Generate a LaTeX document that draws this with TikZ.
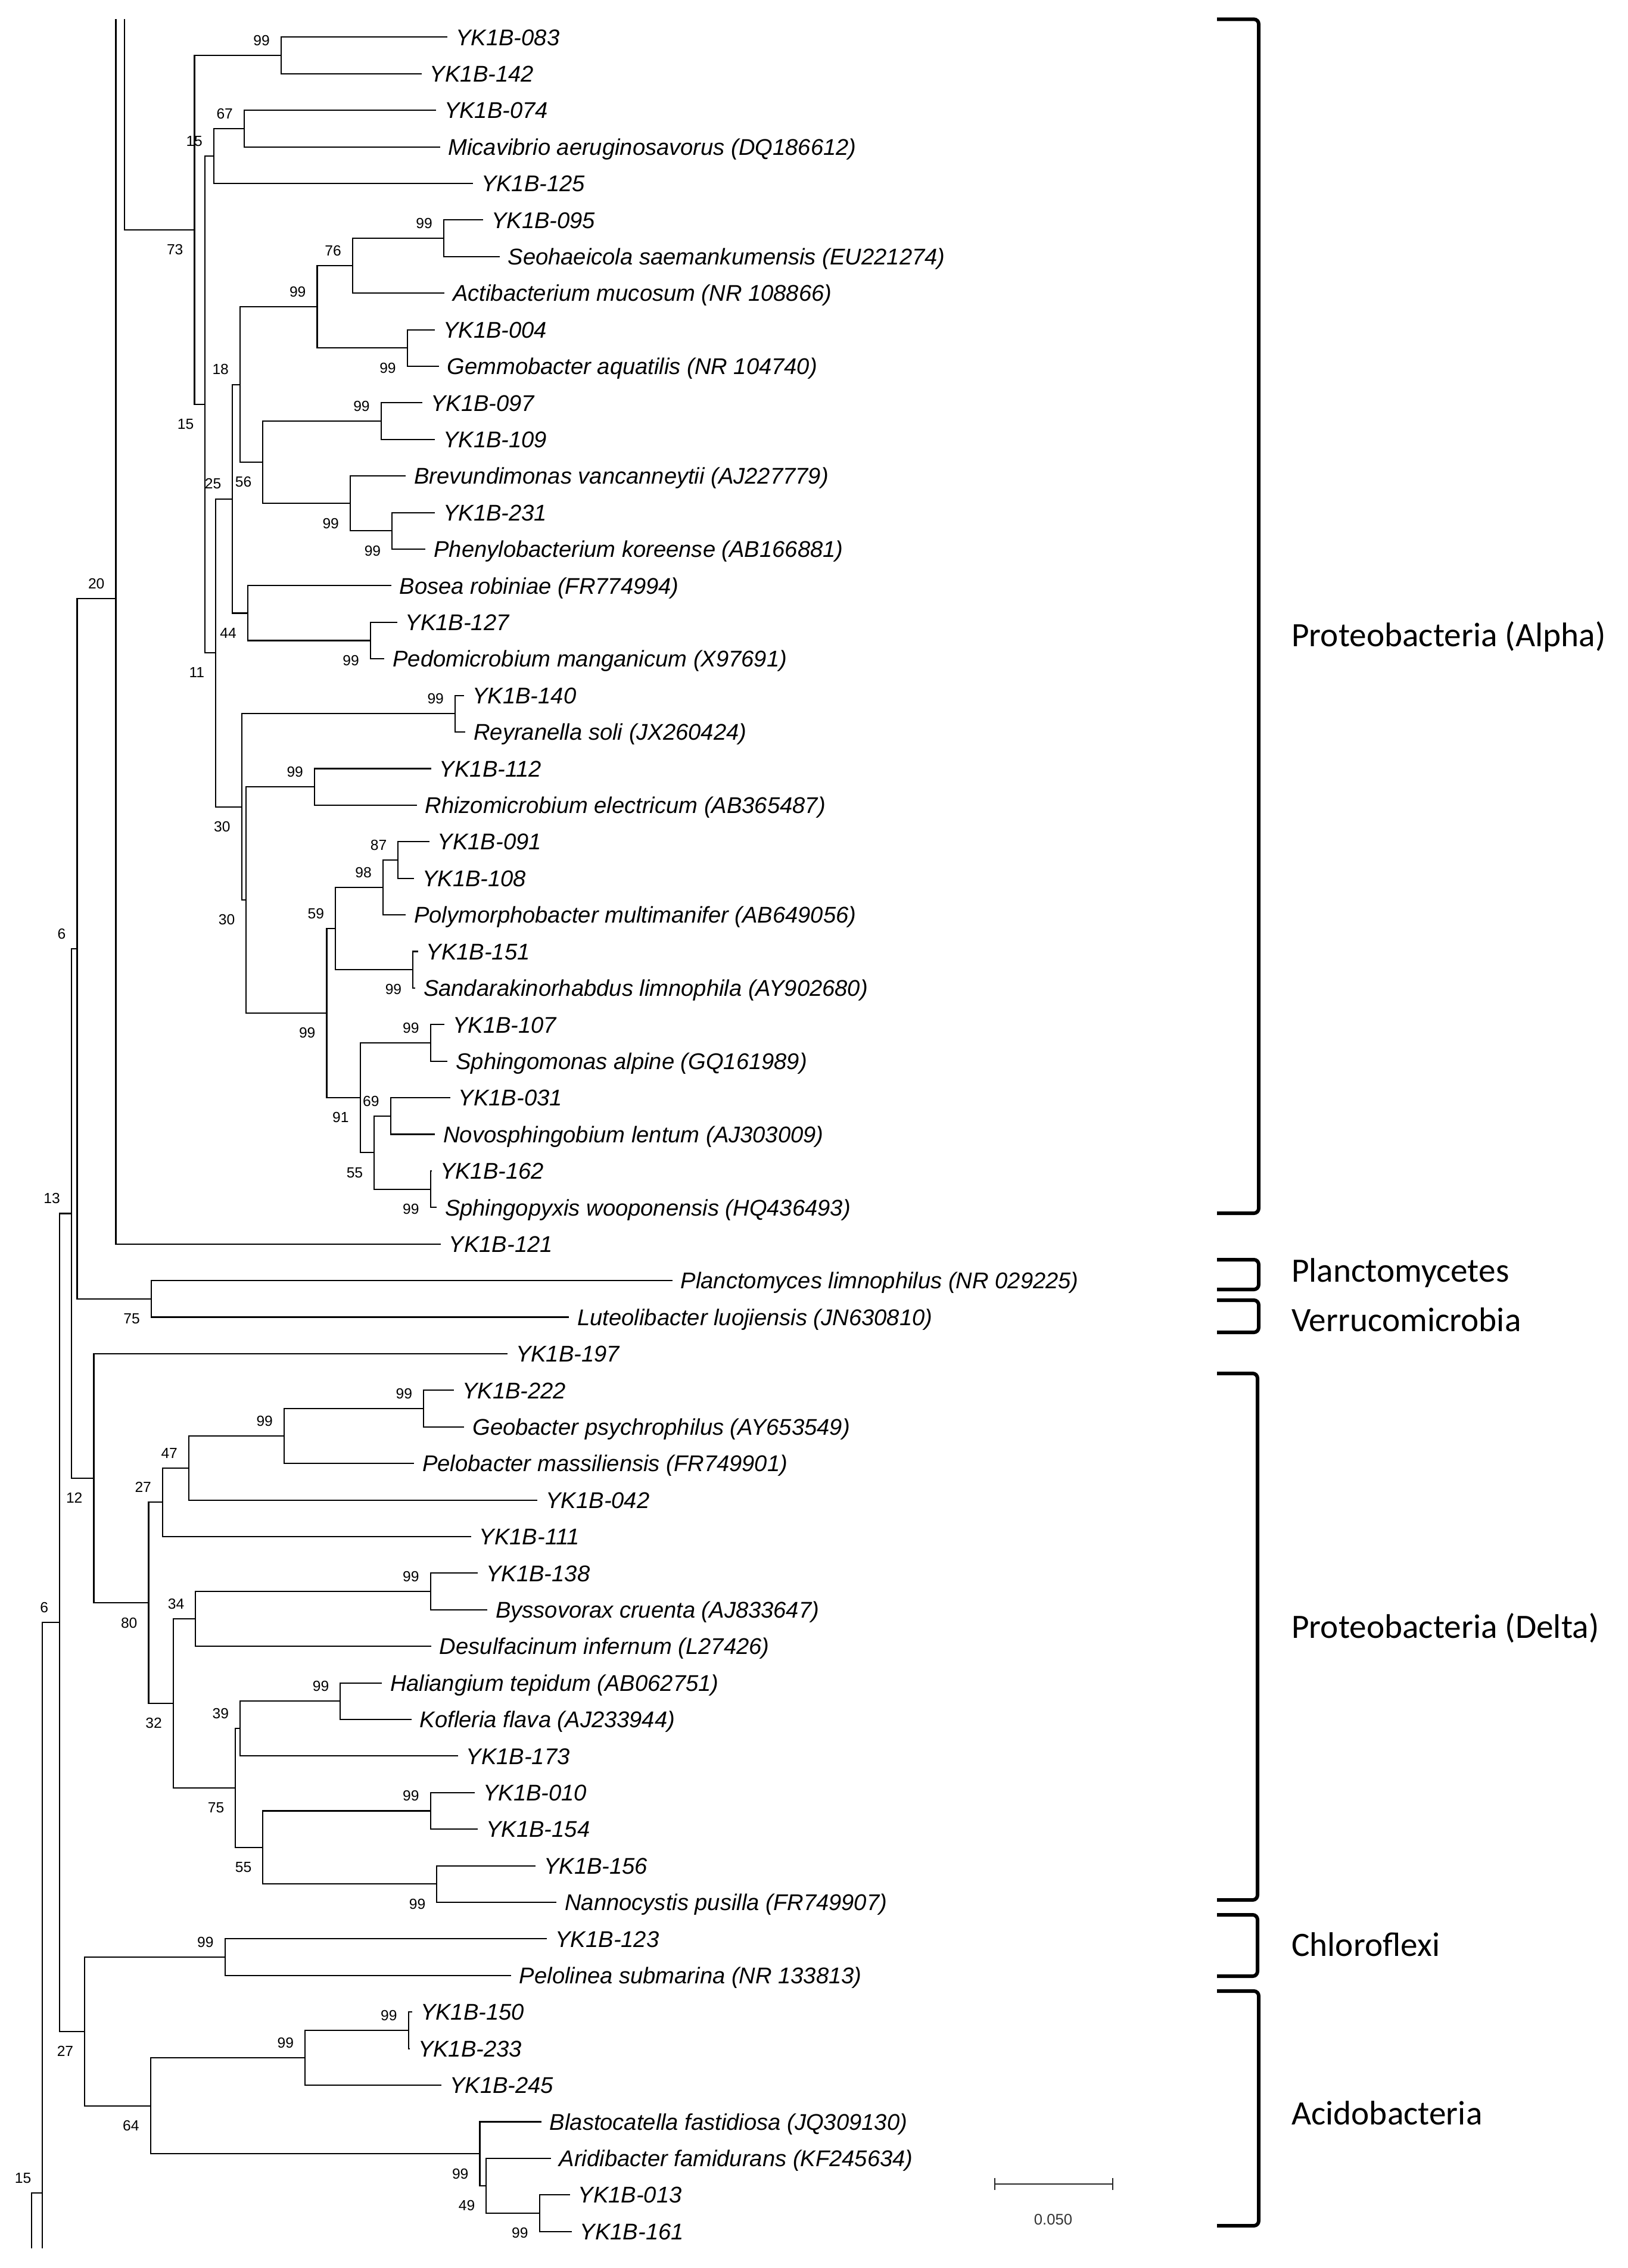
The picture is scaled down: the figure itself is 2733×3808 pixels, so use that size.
\documentclass[tikz,border=0pt]{standalone}
\usepackage{fontspec}
\setmainfont{Liberation Sans}
\newfontfamily\carl{Carlito}
\begin{document}
\begin{tikzpicture}[x=0.01cm,y=-0.01cm,line width=0.6pt,
  leaf/.style={anchor=west,inner xsep=0.13cm,inner ysep=0pt,font=\fontsize{10.85}{13}\selectfont\itshape,text height=7.8pt,text depth=0pt},
  bs/.style={anchor=east,inner sep=0pt,xshift=-0.18cm,font=\fontsize{7}{8}\selectfont,text height=5pt,text depth=0pt},
  bsu/.style={bs,yshift=0.255cm},
  bsl/.style={bs,yshift=-0.33cm},
  bracketline/.style={line width=1.7pt,rounded corners=0.08cm},
  clade/.style={anchor=base west,inner sep=0pt,font=\carl\fontsize{16.3}{19}\selectfont}]
\useasboundingbox (0,0) rectangle (2733,3808);
\begin{scope}[yshift=-0.623cm,y=-0.6137cm]
% leaves
\node[leaf] (L1) at (751.3,0) {YK1B-083};
\node[leaf] (L2) at (707.9,1) {YK1B-142};
\node[leaf] (L3) at (732,2) {YK1B-074};
\node[leaf] (L4) at (738.5,3) {Micavibrio aeruginosavorus (DQ186612)};
\node[leaf] (L5) at (794,4) {YK1B-125};
\node[leaf] (L6) at (811.2,5) {YK1B-095};
\node[leaf] (L7) at (838.6,6) {Seohaeicola saemankumensis (EU221274)};
\node[leaf] (L8) at (746.2,7) {Actibacterium mucosum (NR 108866)};
\node[leaf] (L9) at (730.2,8) {YK1B-004};
\node[leaf] (L10) at (736.6,9) {Gemmobacter aquatilis (NR 104740)};
\node[leaf] (L11) at (709.2,10) {YK1B-097};
\node[leaf] (L12) at (730.2,11) {YK1B-109};
\node[leaf] (L13) at (681.1,12) {Brevundimonas vancanneytii (AJ227779)};
\node[leaf] (L14) at (730.2,13) {YK1B-231};
\node[leaf] (L15) at (714.3,14) {Phenylobacterium koreense (AB166881)};
\node[leaf] (L16) at (656.9,15) {Bosea robiniae (FR774994)};
\node[leaf] (L17) at (666.5,16) {YK1B-127};
\node[leaf] (L18) at (645.4,17) {Pedomicrobium manganicum (X97691)};
\node[leaf] (L19) at (779.3,18) {YK1B-140};
\node[leaf] (L20) at (781.2,19) {Reyranella soli (JX260424)};
\node[leaf] (L21) at (723.9,20) {YK1B-112};
\node[leaf] (L22) at (699.6,21) {Rhizomicrobium electricum (AB365487)};
\node[leaf] (L23) at (720.7,22) {YK1B-091};
\node[leaf] (L24) at (695.2,23) {YK1B-108};
\node[leaf] (L25) at (681.1,24) {Polymorphobacter multimanifer (AB649056)};
\node[leaf] (L26) at (701.5,25) {YK1B-151};
\node[leaf] (L27) at (697,26) {Sandarakinorhabdus limnophila (AY902680)};
\node[leaf] (L28) at (746.2,27) {YK1B-107};
\node[leaf] (L29) at (751.3,28) {Sphingomonas alpine (GQ161989)};
\node[leaf] (L30) at (755.7,29) {YK1B-031};
\node[leaf] (L31) at (730.2,30) {Novosphingobium lentum (AJ303009)};
\node[leaf] (L32) at (725,31) {YK1B-162};
\node[leaf] (L33) at (733,32) {Sphingopyxis wooponensis (HQ436493)};
\node[leaf] (L34) at (739.8,33) {YK1B-121};
\node[leaf] (L35) at (1128.7,34) {Planctomyces limnophilus (NR 029225)};
\node[leaf] (L36) at (955.4,35) {Luteolibacter luojiensis (JN630810)};
\node[leaf] (L37) at (852,36) {YK1B-197};
\node[leaf] (L38) at (762.1,37) {YK1B-222};
\node[leaf] (L39) at (779.3,38) {Geobacter psychrophilus (AY653549)};
\node[leaf] (L40) at (695.2,39) {Pelobacter massiliensis (FR749901)};
\node[leaf] (L41) at (902.4,40) {YK1B-042};
\node[leaf] (L42) at (790.8,41) {YK1B-111};
\node[leaf] (L43) at (802.3,42) {YK1B-138};
\node[leaf] (L44) at (818.2,43) {Byssovorax cruenta (AJ833647)};
\node[leaf] (L45) at (723.9,44) {Desulfacinum infernum (L27426)};
\node[leaf] (L46) at (641,45) {Haliangium tepidum (AB062751)};
\node[leaf] (L47) at (690.7,46) {Kofleria flava (AJ233944)};
\node[leaf] (L48) at (768.5,47) {YK1B-173};
\node[leaf] (L49) at (797.2,48) {YK1B-010};
\node[leaf] (L50) at (802.3,49) {YK1B-154};
\node[leaf] (L51) at (899.2,50) {YK1B-156};
\node[leaf] (L52) at (934.3,51) {Nannocystis pusilla (FR749907)};
\node[leaf] (L53) at (918.4,52) {YK1B-123};
\node[leaf] (L54) at (857.8,53) {Pelolinea submarina (NR 133813)};
\node[leaf] (L55) at (692,54) {YK1B-150};
\node[leaf] (L56) at (688,55) {YK1B-233};
\node[leaf] (L57) at (741.1,56) {YK1B-245};
\node[leaf] (L58) at (908.8,57) {Blastocatella fastidiosa (JQ309130)};
\node[leaf] (L59) at (924.7,58) {Aridibacter famidurans (KF245634)};
\node[leaf] (L60) at (956.6,59) {YK1B-013};
\node[leaf] (L61) at (959.8,60) {YK1B-161};
% internal nodes
\coordinate (top1) at (209.2,-0.5);
\coordinate (top2) at (194.5,-0.5);
\coordinate (A73) at (326.5,5.2715);
\coordinate (N99a) at (471.9,0.5);
\coordinate (N15a) at (344.4,10.043);
\coordinate (N15b) at (359,3.25);
\coordinate (N67) at (410,2.5);
\coordinate (N11) at (362.2,16.8359);
\coordinate (N25) at (390.3,12.625);
\coordinate (N18) at (403,9.5);
\coordinate (N99b) at (532.5,7.375);
\coordinate (N76) at (591.8,6.25);
\coordinate (N99d) at (744.9,5.5);
\coordinate (N99c) at (683.7,8.5);
\coordinate (N56) at (441.3,11.625);
\coordinate (N99e) at (639.7,10.5);
\coordinate (N99f) at (588,12.75);
\coordinate (N99g) at (658.2,13.5);
\coordinate (N44) at (415.8,15.75);
\coordinate (N99h) at (621.8,16.5);
\coordinate (N30a) at (405.6,21.0469);
\coordinate (N99i) at (764,18.5);
\coordinate (N30b) at (413.3,23.5938);
\coordinate (N99j) at (528,20.5);
\coordinate (N99k) at (548.5,26.6875);
\coordinate (N59) at (563.1,24.375);
\coordinate (N98) at (642.9,23.25);
\coordinate (N87) at (668.4,22.5);
\coordinate (N99l) at (693.2,25.5);
\coordinate (N91) at (604.6,29);
\coordinate (N99m) at (722.6,27.5);
\coordinate (N55a) at (628.2,30.5);
\coordinate (N69) at (655.6,29.5);
\coordinate (N99n) at (722.6,31.5);
\coordinate (N20) at (194.5,15.35);
\coordinate (N6a) at (129.5,24.925);
\coordinate (N75) at (253.8,34.5);
\coordinate (N13) at (119.9,32.166);
\coordinate (N12) at (157.5,39.406);
\coordinate (N80) at (249.5,42.8125);
\coordinate (N27a) at (273,40.0625);
\coordinate (N47) at (317,39.125);
\coordinate (N99o) at (477,38.25);
\coordinate (N99p) at (711.1,37.5);
\coordinate (N32) at (290.8,45.5625);
\coordinate (N34) at (328.4,43.25);
\coordinate (N99q) at (722.6,42.5);
\coordinate (N75b) at (395.4,47.875);
\coordinate (N39) at (403.1,46.25);
\coordinate (N99r) at (571.4,45.5);
\coordinate (N55b) at (441.3,49.5);
\coordinate (N99s) at (722.6,48.5);
\coordinate (N99t) at (733.4,50.5);
\coordinate (N6b) at (100.1,43.348);
\coordinate (N27b) at (142.2,54.531);
\coordinate (N99u) at (377.6,52.5);
\coordinate (N64) at (252.6,56.5625);
\coordinate (N99v) at (512.1,55.25);
\coordinate (N99x) at (685.6,54.5);
\coordinate (N99w) at (805.5,57.875);
\coordinate (N49) at (816.3,58.75);
\coordinate (N99y) at (905.6,59.5);
\coordinate (N15c) at (71.4,58.95);
\coordinate (bot1) at (71.4,60.46);
\coordinate (bot0) at (52.9,60.46);
\end{scope}
% branches between internal nodes
\foreach \p/\c in {top1/A73,A73/N99a,A73/N15a,N15a/N15b,N15a/N11,N15b/N67,N11/N25,N11/N30a,
  N25/N18,N25/N44,N18/N99b,N18/N56,N99b/N76,N99b/N99c,N76/N99d,N56/N99e,N56/N99f,N99f/N99g,
  N44/N99h,N30a/N99i,N30a/N30b,N30b/N99j,N30b/N99k,N99k/N59,N99k/N91,N59/N98,N59/N99l,N98/N87,
  N91/N99m,N91/N55a,N55a/N69,N55a/N99n,N6a/N20,N6a/N75,N13/N6a,N13/N12,N12/N80,N80/N27a,N80/N32,
  N27a/N47,N47/N99o,N99o/N99p,N32/N34,N32/N75b,N34/N99q,N75b/N39,N75b/N55b,N39/N99r,N55b/N99s,
  N55b/N99t,N6b/N13,N6b/N27b,N27b/N99u,N27b/N64,N64/N99v,N64/N99w,N99v/N99x,N99w/N49,N49/N99y,
  N15c/N6b,bot0/N15c}
  \draw (\p) |- (\c);
\draw (N20) -- (top2);
\draw (N15c) -- (bot1);
% branches to leaves
\foreach \p/\c in {N99a/L1,N99a/L2,N67/L3,N67/L4,N15b/L5,N99d/L6,N99d/L7,N76/L8,N99c/L9,N99c/L10,
  N99e/L11,N99e/L12,N99f/L13,N99g/L14,N99g/L15,N44/L16,N99h/L17,N99h/L18,N99i/L19,N99i/L20,
  N99j/L21,N99j/L22,N87/L23,N87/L24,N98/L25,N99l/L26,N99l/L27,N99m/L28,N99m/L29,N69/L30,N69/L31,
  N99n/L32,N99n/L33,N20/L34,N75/L35,N75/L36,N12/L37,N99p/L38,N99p/L39,N99o/L40,N47/L41,N27a/L42,
  N99q/L43,N99q/L44,N34/L45,N99r/L46,N99r/L47,N39/L48,N99s/L49,N99s/L50,N99t/L51,N99t/L52,
  N99u/L53,N99u/L54,N99x/L55,N99x/L56,N99v/L57,N99w/L58,N49/L59,N99y/L60,N99y/L61}
  \draw (\p) |- (\c.west);
% bootstrap values
\node[bsu] (b1) at (N99a) {99};
\node[bsl] (b2) at (A73) {73};
\node[bsl] (b3) at (N15a) {15};
\node[bsu] (b4) at (N15b) {15};
\node[bsu] (b5) at (N67) {67};
\node[bsl] (b6) at (N11) {11};
\node[bsu] (b7) at (N25) {25};
\node[bsu] (b8) at (N18) {18};
\node[bsu] (b9) at (N99b) {99};
\node[bsu] (b10) at (N76) {76};
\node[bsu] (b11) at (N99d) {99};
\node[bsl] (b12) at (N99c) {99};
\node[bsl] (b13) at (N56) {56};
\node[bsu] (b14) at (N99e) {99};
\node[bsl] (b15) at (N99f) {99};
\node[bsl] (b16) at (N99g) {99};
\node[bsl] (b17) at (N44) {44};
\node[bsl] (b18) at (N99h) {99};
\node[bsl] (b19) at (N30a) {30};
\node[bsu] (b20) at (N99i) {99};
\node[bsl] (b21) at (N30b) {30};
\node[bsu] (b22) at (N99j) {99};
\node[bsl] (b23) at (N99k) {99};
\node[bsu] (b24) at (N59) {59};
\node[bsu] (b25) at (N98) {98};
\node[bsu] (b26) at (N87) {87};
\node[bsl] (b27) at (N99l) {99};
\node[bsl] (b28) at (N91) {91};
\node[bsu] (b29) at (N99m) {99};
\node[bsl] (b30) at (N55a) {55};
\node[bsu] (b31) at (N69) {69};
\node[bsl] (b32) at (N99n) {99};
\node[bsu] (b33) at (N20) {20};
\node[bsu] (b34) at (N6a) {6};
\node[bsl] (b35) at (N75) {75};
\node[bsu] (b36) at (N13) {13};
\node[bsl] (b37) at (N12) {12};
\node[bsl] (b38) at (N80) {80};
\node[bsu] (b39) at (N27a) {27};
\node[bsu] (b40) at (N47) {47};
\node[bsu] (b41) at (N99o) {99};
\node[bsu] (b42) at (N99p) {99};
\node[bsl] (b43) at (N32) {32};
\node[bsu] (b44) at (N34) {34};
\node[bsu] (b45) at (N99q) {99};
\node[bsl] (b46) at (N75b) {75};
\node[bsu] (b47) at (N39) {39};
\node[bsu] (b48) at (N99r) {99};
\node[bsl] (b49) at (N55b) {55};
\node[bsu] (b50) at (N99s) {99};
\node[bsl] (b51) at (N99t) {99};
\node[bsu] (b52) at (N6b) {6};
\node[bsl] (b53) at (N27b) {27};
\node[bsu] (b54) at (N99u) {99};
\node[bsl] (b55) at (N64) {64};
\node[bsu] (b56) at (N99v) {99};
\node[bsu] (b57) at (N99x) {99};
\node[bsl] (b58) at (N99w) {99};
\node[bsl] (b59) at (N49) {49};
\node[bsl] (b60) at (N99y) {99};
\node[bsu] (b61) at (N15c) {15};
% clade brackets
\draw[bracketline] (2043,32.3) -- (2113,32.3) -- (2113,2037) -- (2043,2037);
\draw[bracketline] (2043,2115) -- (2113,2115) -- (2113,2165) -- (2043,2165);
\draw[bracketline] (2043,2183) -- (2113,2183) -- (2113,2237) -- (2043,2237);
\draw[bracketline] (2043,2306) -- (2111,2306) -- (2111,3190) -- (2043,3190);
\draw[bracketline] (2043,3215) -- (2111,3215) -- (2111,3318) -- (2043,3318);
\draw[bracketline] (2043,3343) -- (2113,3343) -- (2113,3737) -- (2043,3737);
\node[clade] (cA) at (2167,1085) {Proteobacteria (Alpha)};
\node[clade] (cP) at (2167,2152) {Planctomycetes};
\node[clade] (cV) at (2167,2235) {Verrucomicrobia};
\node[clade] (cD) at (2167,2750) {Proteobacteria (Delta)};
\node[clade] (cC) at (2167,3284) {Chloroflexi};
\node[clade] (cB) at (2167,3567) {Acidobacteria};
% scale bar
\coordinate (sbL) at (1670,3666.7);
\coordinate (sbR) at (1868,3666.7);
\draw[line width=0.6pt,black!85] (sbL) -- (sbR);
\draw[line width=0.8pt,black!85] ([yshift=0.1cm]sbL) -- ([yshift=-0.1cm]sbL);
\draw[line width=0.8pt,black!85] ([yshift=0.1cm]sbR) -- ([yshift=-0.1cm]sbR);
\node[font=\fontsize{7.3}{9}\selectfont,text=black!80,inner sep=0pt] (sbT) at (1768,3727) {0.050};
\end{tikzpicture}
\end{document}
